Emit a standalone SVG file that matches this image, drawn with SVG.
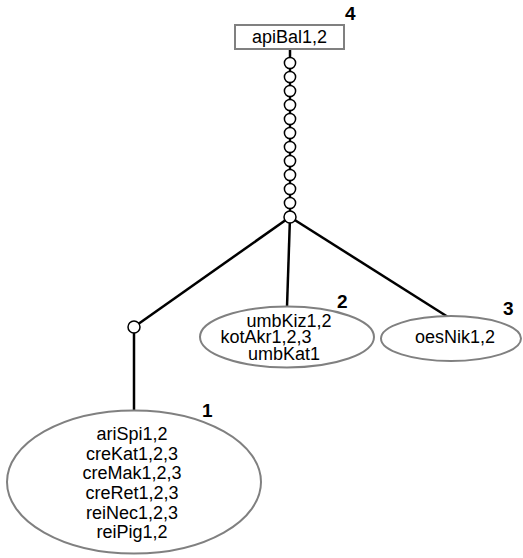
<svg xmlns="http://www.w3.org/2000/svg" width="523" height="558" viewBox="0 0 523 558">
  <style>
    .lbl { font-family: "Liberation Sans", Arial, sans-serif; font-size: 18px; fill: #000; text-anchor: middle; }
    .num { font-family: "Liberation Sans", Arial, sans-serif; font-size: 19px; font-weight: bold; fill: #000; }
    .shape { fill: #fff; stroke: #808080; stroke-width: 2; }
    .edge { stroke: #000; stroke-width: 2.5; fill: none; }
    .knot { fill: #fff; stroke: #000; stroke-width: 1.5; }
  </style>
  <rect width="523" height="558" fill="#fff"/>

  <!-- connectors -->
  <g id="connectors">
    <line class="edge" x1="290" y1="49" x2="290" y2="217"/>
    <line class="edge" x1="290" y1="217" x2="134" y2="327"/>
    <line class="edge" x1="134" y1="327" x2="134" y2="411"/>
    <line class="edge" x1="290" y1="217" x2="287" y2="307"/>
    <line class="edge" x1="290" y1="217" x2="448" y2="317"/>
    <!-- chain of intermediate nodes -->
    <g id="chain">
      <circle class="knot" cx="290" cy="63" r="5.6"/>
      <circle class="knot" cx="290" cy="77" r="5.6"/>
      <circle class="knot" cx="290" cy="91" r="5.6"/>
      <circle class="knot" cx="290" cy="105" r="5.6"/>
      <circle class="knot" cx="290" cy="119" r="5.6"/>
      <circle class="knot" cx="290" cy="133" r="5.6"/>
      <circle class="knot" cx="290" cy="147" r="5.6"/>
      <circle class="knot" cx="290" cy="161" r="5.6"/>
      <circle class="knot" cx="290" cy="175" r="5.6"/>
      <circle class="knot" cx="290" cy="189" r="5.6"/>
      <circle class="knot" cx="290" cy="203" r="5.6"/>
      <circle class="knot" cx="290" cy="217" r="6"/>
    </g>
    <circle class="knot" cx="134" cy="327" r="6"/>
  </g>

  <!-- node 4: root box -->
  <g id="node4">
    <rect class="shape" x="235" y="25" width="109" height="24"/>
    <text class="lbl" x="289.5" y="43">apiBal1,2</text>
    <text class="num" x="345" y="20">4</text>
  </g>

  <!-- node 1 -->
  <g id="node1">
    <ellipse class="shape" cx="134" cy="482" rx="127" ry="71.5"/>
    <text class="lbl" x="132" y="440">ariSpi1,2</text>
    <text class="lbl" x="132" y="459.5">creKat1,2,3</text>
    <text class="lbl" x="132" y="479">creMak1,2,3</text>
    <text class="lbl" x="132" y="499">creRet1,2,3</text>
    <text class="lbl" x="132" y="518.5">reiNec1,2,3</text>
    <text class="lbl" x="132" y="538">reiPig1,2</text>
    <text class="num" x="202" y="417">1</text>
  </g>

  <!-- node 2 -->
  <g id="node2">
    <ellipse class="shape" cx="287" cy="337" rx="87" ry="30.5"/>
    <text class="lbl" x="289" y="327">umbKiz1,2</text>
    <text class="lbl" x="266" y="343">kotAkr1,2,3</text>
    <text class="lbl" x="284" y="360">umbKat1</text>
    <text class="num" x="337" y="308">2</text>
  </g>

  <!-- node 3 -->
  <g id="node3">
    <ellipse class="shape" cx="451" cy="338.5" rx="70" ry="22.5"/>
    <text class="lbl" x="455" y="343">oesNik1,2</text>
    <text class="num" x="503" y="315">3</text>
  </g>
</svg>
